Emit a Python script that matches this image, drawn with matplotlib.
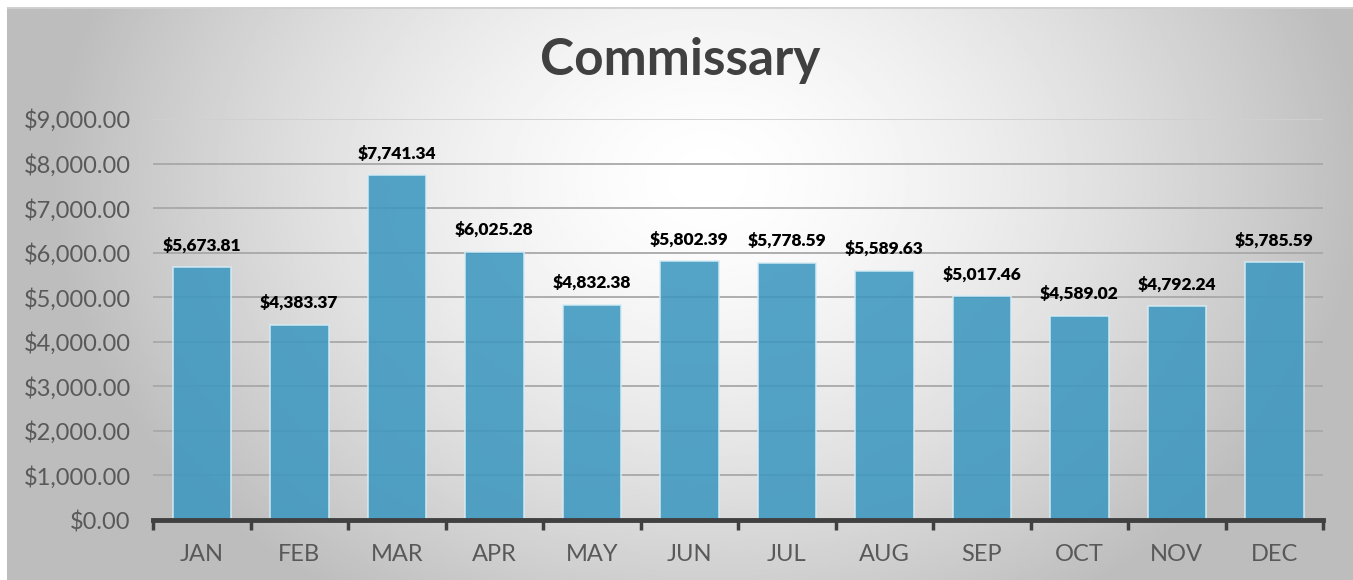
import numpy as np
import matplotlib
matplotlib.use("Agg")
import matplotlib.pyplot as plt
from matplotlib.ticker import FuncFormatter, FixedLocator

months = ["JAN", "FEB", "MAR", "APR", "MAY", "JUN", "JUL", "AUG", "SEP", "OCT", "NOV", "DEC"]
values = [5673.81, 4383.37, 7741.34, 6025.28, 4832.38, 5802.39, 5778.59, 5589.63, 5017.46, 4589.02, 4792.24, 5785.59]
yticks = [0, 1000, 2000, 3000, 4000, 5000, 6000, 7000, 8000, 9000]
title = "Commissary"

W, H = 1353, 580
fig = plt.figure(figsize=(W / 100, H / 100), dpi=100)
fig.patch.set_facecolor("white")

# background radial gradient
bg = fig.add_axes([7 / W, 0, 1 - 7 / W, 1 - 7 / H])
bg.set_axis_off()
ny, nx = 300, 700
yy, xx = np.mgrid[0:ny, 0:nx]
cx, cy = nx * 0.52, ny * 0.30
r = np.sqrt(((xx - cx) / (nx * 0.5)) ** 2 + ((yy - cy) / (ny * 0.9)) ** 2)
val = np.clip(1.0 - 0.27 * r ** 1.5, 0.74, 1.0)
bg.imshow(val, cmap="gray", vmin=0, vmax=1, aspect="auto", extent=[0, 1, 0, 1], origin="upper", interpolation="bilinear")
bg.set_xlim(0, 1)
bg.set_ylim(0, 1)
bg.axhline(1, color="#d0d0d0", lw=2)

ax = fig.add_axes([153 / W, 1 - 520 / H, (1323 - 153) / W, (520 - 119) / H])
ax.patch.set_alpha(0)
x = np.arange(len(months))
bars = ax.bar(x, values, width=0.6, color="#3d98c1", alpha=0.88, edgecolor="#d6ecf5", linewidth=1.2, zorder=3)
ax.set_xlim(-0.5, len(months) - 0.5)
ax.set_ylim(0, 9000)
ax.set_yticks(yticks)
ax.yaxis.set_major_formatter(FuncFormatter(lambda v, p: f"${v:,.2f}"))
ax.tick_params(axis="y", length=0, labelsize=17, labelcolor="#595959", pad=16)
for yv in yticks[1:]:
    ax.axhline(yv, color="#a8a8a8" if yv < 9000 else "#d0d0d0", lw=1.3, zorder=1)

ax.xaxis.set_major_locator(FixedLocator(np.arange(-0.5, len(months), 1.0)))
ax.set_xticklabels([])
ax.set_xticks(x, minor=True)
ax.set_xticklabels(months, minor=True)
ax.tick_params(axis="x", which="major", length=7, width=2.5, color="#404040", direction="out")
ax.tick_params(axis="x", which="minor", length=0, labelsize=17, labelcolor="#595959", pad=17)
for lbl in ax.get_xticklabels(minor=True) + ax.get_yticklabels():
    lbl.set_family(["Lato", "DejaVu Sans"])

for s in ["left", "right", "top"]:
    ax.spines[s].set_visible(False)
ax.spines["bottom"].set_color("#404040")
ax.spines["bottom"].set_linewidth(3.5)
ax.spines["bottom"].set_zorder(4)

for xi, v in zip(x, values):
    ax.annotate(f"${v:,.2f}", (xi, v), xytext=(0, 10), textcoords="offset points",
                ha="center", va="bottom", fontsize=12.5, fontweight="heavy", color="black",
                family=["Lato", "DejaVu Sans"], zorder=5)

fig.text(680 / W, 1 - 60 / H, title, ha="center", va="center", fontsize=37, fontweight="bold",
         color="#404040", family=["Lato", "DejaVu Sans"])

fig.savefig("out.png", dpi=100)
